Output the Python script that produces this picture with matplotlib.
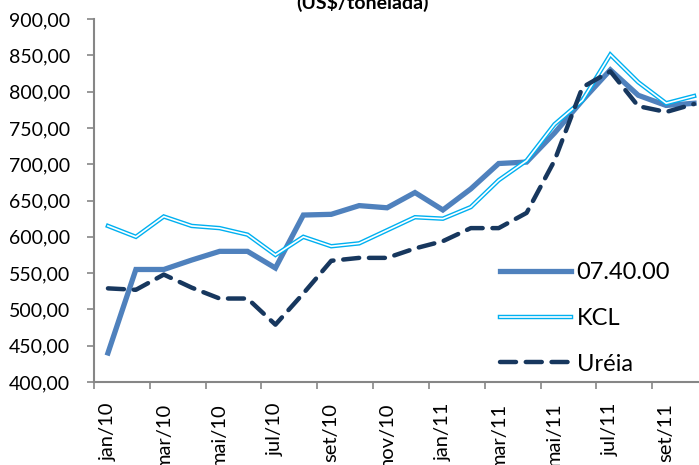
import numpy as np
import matplotlib
matplotlib.use("Agg")
import matplotlib.pyplot as plt
from matplotlib.legend_handler import HandlerTuple
from matplotlib.ticker import FuncFormatter

plt.rcParams['font.family'] = ['Lato', 'DejaVu Sans']

meses = ['jan/10', 'fev/10', 'mar/10', 'abr/10', 'mai/10', 'jun/10',
         'jul/10', 'ago/10', 'set/10', 'out/10', 'nov/10', 'dez/10',
         'jan/11', 'fev/11', 'mar/11', 'abr/11', 'mai/11', 'jun/11',
         'jul/11', 'ago/11', 'set/11', 'out/11']

# precos em US$/tonelada
formula_074000 = [440, 555, 555, 568, 580, 580, 557, 630, 631, 643, 640, 661,
                  637, 666, 701, 703, 743, 788, 830, 795, 781, 784]
kcl = [615, 600, 628, 615, 612, 603, 575, 600, 587, 591, 609, 627,
       625, 641, 678, 705, 755, 788, 851, 813, 784, 794]
ureia = [529, 527, 548, 530, 515, 515, 479, 522, 567, 571, 571, 584,
         594, 612, 612, 633, 705, 806, 828, 780, 772, 783]

c_form = '#4F81BD'
c_kcl = '#00B0F0'
c_ureia = '#17375E'
c_eixo = '#868686'

fig = plt.figure(figsize=(6.99, 4.65), dpi=100)
ax = fig.add_axes([0.1345, 0.1785, 0.8784, 0.7805])

x = np.arange(len(meses))
l1, = ax.plot(x, formula_074000, color=c_form, lw=3.8, solid_joinstyle='miter', zorder=2)
k1, = ax.plot(x, kcl, color=c_kcl, lw=3.2, solid_joinstyle='miter', zorder=3)
k2, = ax.plot(x, kcl, color='white', lw=1.2, solid_joinstyle='miter', zorder=3)
u1, = ax.plot(x, ureia, color=c_ureia, lw=3.2, ls=(0, (3.6, 2.2)),
              dash_capstyle='round', zorder=4)

ax.set_xlim(-0.5, len(meses) - 0.5)
ax.set_ylim(400, 900)
ax.set_yticks(np.arange(400, 901, 50))
ax.yaxis.set_major_formatter(FuncFormatter(lambda v, p: f'{v:.2f}'.replace('.', ',')))

ax.set_xticks(np.arange(-0.5, len(meses), 2))
ax.set_xticklabels([])
ax.set_xticks(x[::2], minor=True)
ax.set_xticklabels(meses[::2], minor=True, rotation=90, fontsize=14.5)
ax.tick_params(axis='x', which='minor', length=0, pad=15)
ax.tick_params(axis='x', which='major', length=5, color=c_eixo, width=1.2)
ax.tick_params(axis='y', length=5, color=c_eixo, width=1.2, labelsize=14, pad=12)

for s in ['top', 'right']:
    ax.spines[s].set_visible(False)
for s in ['left', 'bottom']:
    ax.spines[s].set_color(c_eixo)
    ax.spines[s].set_linewidth(1.5)

leg = ax.legend([l1, (k1, k2), u1], ['07.40.00', 'KCL', 'Uréia'],
                handler_map={tuple: HandlerTuple(ndivide=1)},
                loc='upper left', bbox_to_anchor=(500 / 699, 1 - 262 / 465),
                bbox_transform=fig.transFigure, frameon=False,
                fontsize=17, handlelength=3.0, handletextpad=0.25,
                labelspacing=1.05, borderaxespad=0, borderpad=0)

fig.text(363 / 699, 1 - 9 / 465, '(US$/tonelada)', ha='center', va='baseline',
         fontsize=14, fontweight='bold')

fig.savefig('out.png', dpi=100)
